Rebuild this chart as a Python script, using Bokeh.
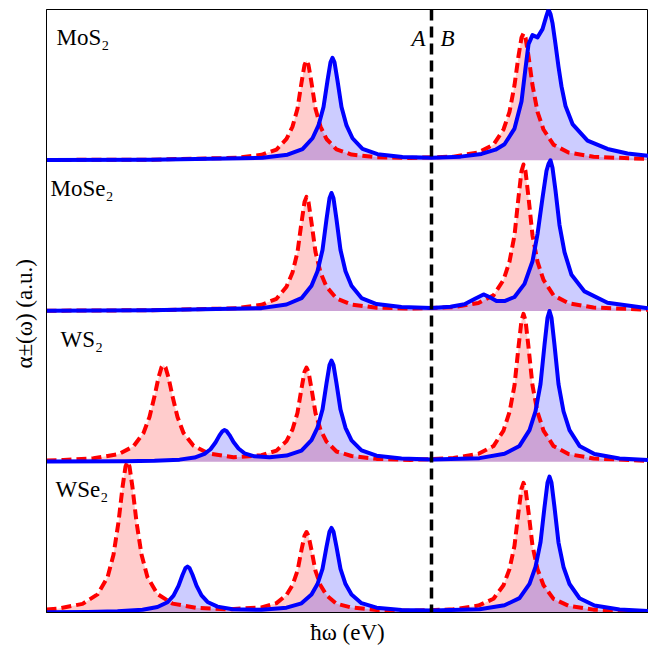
from bokeh.plotting import figure
from bokeh.models import Range1d, FixedTicker, Span
from bokeh.core.properties import value
from bokeh.embed import file_html
from bokeh.resources import INLINE

# ---------------- data ----------------
materials = ["MoS₂", "MoSe₂", "WS₂", "WSe₂"]
label_x = [56, 50, 60, 55]
label_y = [0.815, 0.81, 0.81, 0.815]
split_energy = 431          # A | B boundary
region_labels = ["A", "B"]
region_label_y = 3.81

mos2_red_x = [46, 150, 236, 261, 276, 286, 292, 297, 301, 304, 306, 308, 311, 315, 320, 326, 336, 351, 376, 410,
              453, 478, 493, 503, 509, 514, 518, 521, 523, 525, 528, 532, 537, 543, 553, 568, 593, 648]
mos2_red_y = [0.002, 0.004, 0.016, 0.036, 0.071, 0.141, 0.223, 0.342, 0.514, 0.632, 0.662, 0.632, 0.514, 0.342,
              0.223, 0.141, 0.072, 0.038, 0.020, 0.015, 0.024, 0.052, 0.103, 0.204, 0.321, 0.498, 0.691, 0.813,
              0.842, 0.813, 0.691, 0.498, 0.321, 0.204, 0.103, 0.051, 0.023, 0.008]
mos2_blue_x = [46, 150, 262, 287, 302, 312, 318, 323, 327, 330, 332, 334, 337, 341, 346, 352, 362, 377, 402, 431,
               460, 481, 495, 504, 514, 521, 525, 528, 532, 537, 542, 546, 548, 550, 552, 555, 558, 561, 565, 572,
               587, 607, 627, 648]
mos2_blue_y = [0.002, 0.004, 0.016, 0.037, 0.074, 0.146, 0.231, 0.353, 0.528, 0.650, 0.680, 0.650, 0.528, 0.353,
               0.231, 0.146, 0.075, 0.040, 0.022, 0.016, 0.024, 0.042, 0.07, 0.106, 0.21, 0.39, 0.61, 0.77, 0.83,
               0.815, 0.87, 0.96, 1.0, 0.97, 0.91, 0.77, 0.62, 0.49, 0.36, 0.24, 0.13, 0.075, 0.045, 0.03]

mose2_red_x = [46, 150, 236, 261, 276, 286, 292, 297, 301, 304, 306, 308, 311, 315, 320, 326, 336, 351, 376, 410,
               453, 478, 493, 503, 509, 514, 518, 521, 523, 525, 528, 532, 537, 543, 553, 568, 593, 648]
mose2_red_y = [0.002, 0.005, 0.018, 0.041, 0.081, 0.161, 0.255, 0.391, 0.587, 0.723, 0.757, 0.723, 0.587, 0.391,
               0.255, 0.161, 0.083, 0.043, 0.022, 0.016, 0.025, 0.053, 0.104, 0.206, 0.327, 0.502, 0.754, 0.928,
               0.972, 0.928, 0.754, 0.502, 0.327, 0.206, 0.104, 0.052, 0.023, 0.008]
mose2_blue_x = [46, 150, 261, 286, 301, 311, 317, 322, 326, 329, 331, 333, 336, 340, 345, 351, 361, 376, 401, 431,
                450, 464, 474, 483, 489, 496, 504, 514, 524, 532, 537, 542, 546, 548, 550, 552, 555, 559, 564, 571,
                584, 607, 648]
mose2_blue_y = [0.002, 0.005, 0.019, 0.043, 0.085, 0.167, 0.264, 0.405, 0.608, 0.748, 0.783, 0.748, 0.608, 0.405,
                0.264, 0.167, 0.086, 0.046, 0.026, 0.02, 0.028, 0.045, 0.08, 0.11, 0.093, 0.066, 0.066, 0.093,
                0.18, 0.33, 0.51, 0.75, 0.93, 0.975, 1.0, 0.95, 0.80, 0.57, 0.39, 0.24, 0.13, 0.055, 0.018]

ws2_red_x = [46, 63, 93, 118, 133, 143, 149, 154, 158, 161, 163, 165, 168, 172, 177, 183, 193, 208, 233, 261,
             276, 286, 292, 297, 301, 304, 306, 308, 311, 315, 320, 326, 336, 351, 376, 410, 453, 478, 493, 503,
             509, 514, 518, 521, 523, 525, 528, 532, 537, 543, 553, 568, 593, 648]
ws2_red_y = [0.009, 0.012, 0.023, 0.050, 0.102, 0.191, 0.297, 0.434, 0.558, 0.626, 0.641, 0.626, 0.558, 0.434,
             0.297, 0.191, 0.106, 0.055, 0.030, 0.043, 0.074, 0.137, 0.214, 0.325, 0.486, 0.597, 0.625, 0.596,
             0.485, 0.323, 0.212, 0.134, 0.068, 0.038, 0.019, 0.012, 0.025, 0.053, 0.104, 0.207, 0.329, 0.506,
             0.761, 0.937, 0.981, 0.937, 0.761, 0.506, 0.329, 0.207, 0.104, 0.051, 0.022, 0.006]
ws2_blue_x = [46, 124, 154, 179, 194, 204, 210, 215, 219, 222, 224, 226, 229, 233, 238, 244, 254, 269, 286, 301,
              311, 317, 322, 326, 329, 331, 333, 336, 340, 345, 351, 361, 376, 401, 431, 479, 504, 519, 529, 535,
              540, 544, 547, 549, 551, 554, 558, 563, 569, 579, 594, 619, 648]
ws2_blue_y = [0.002, 0.004, 0.007, 0.014, 0.028, 0.052, 0.083, 0.128, 0.175, 0.203, 0.21, 0.204, 0.177, 0.131,
              0.088, 0.056, 0.036, 0.030, 0.041, 0.074, 0.143, 0.226, 0.346, 0.520, 0.641, 0.671, 0.641, 0.520,
              0.346, 0.225, 0.142, 0.075, 0.040, 0.022, 0.015, 0.024, 0.053, 0.105, 0.21, 0.335, 0.515, 0.775,
              0.955, 1.0, 0.955, 0.775, 0.515, 0.335, 0.21, 0.105, 0.052, 0.022, 0.011]

wse2_red_x = [46, 57, 82, 97, 107, 113, 118, 122, 125, 127, 129, 132, 136, 141, 147, 157, 172, 197, 227, 261,
              276, 286, 292, 297, 301, 304, 306, 308, 311, 315, 320, 326, 336, 351, 376, 410, 453, 478, 493, 503,
              509, 514, 518, 521, 523, 525, 528, 532, 537, 543, 553, 568, 593, 648]
wse2_red_y = [0.02, 0.025, 0.057, 0.12, 0.233, 0.383, 0.60, 0.83, 0.968, 1.0, 0.968, 0.83, 0.60, 0.384, 0.234,
              0.122, 0.059, 0.030, 0.021, 0.034, 0.062, 0.116, 0.182, 0.277, 0.415, 0.51, 0.534, 0.509, 0.414,
              0.276, 0.181, 0.114, 0.058, 0.033, 0.017, 0.011, 0.021, 0.046, 0.091, 0.181, 0.288, 0.443, 0.667,
              0.821, 0.86, 0.821, 0.667, 0.443, 0.288, 0.181, 0.090, 0.045, 0.019, 0.005]
wse2_blue_x = [46, 87, 117, 142, 157, 167, 173, 178, 182, 185, 187, 189, 192, 196, 201, 207, 217, 232, 261, 286,
               301, 311, 317, 322, 326, 329, 331, 333, 336, 340, 345, 351, 361, 376, 401, 431, 479, 504, 519, 529,
               535, 540, 544, 547, 549, 551, 554, 558, 563, 569, 579, 594, 619, 648]
wse2_blue_y = [0.002, 0.004, 0.008, 0.018, 0.036, 0.068, 0.112, 0.177, 0.249, 0.295, 0.305, 0.295, 0.25, 0.178,
               0.113, 0.070, 0.039, 0.022, 0.018, 0.032, 0.061, 0.119, 0.189, 0.289, 0.435, 0.536, 0.561, 0.536,
               0.435, 0.289, 0.189, 0.119, 0.062, 0.032, 0.017, 0.013, 0.022, 0.048, 0.0955, 0.19, 0.303, 0.465,
               0.699, 0.861, 0.901, 0.861, 0.698, 0.464, 0.302, 0.189, 0.0945, 0.0468, 0.0198, 0.009]

red_curves = [(mos2_red_x, mos2_red_y), (mose2_red_x, mose2_red_y), (ws2_red_x, ws2_red_y), (wse2_red_x, wse2_red_y)]
blue_curves = [(mos2_blue_x, mos2_blue_y), (mose2_blue_x, mose2_blue_y), (ws2_blue_x, ws2_blue_y),
               (wse2_blue_x, wse2_blue_y)]

# ---------------- figure ----------------
RED = "#ff0000"
BLUE = "#0000ff"
SERIF = "Liberation Serif"

p = figure(frame_width=602, frame_height=603, min_border_left=46, min_border_right=0,
           min_border_top=9, min_border_bottom=33,
           x_range=Range1d(46, 648), y_range=Range1d(0, 4),
           output_backend="svg", toolbar_location=None)
p.grid.visible = False
p.outline_line_color = "black"
p.outline_line_width = 1
p.background_fill_color = "white"
p.border_fill_color = "white"

for ax in (p.xaxis, p.yaxis):
    ax.ticker = FixedTicker(ticks=[])
    ax.major_tick_line_color = None
    ax.minor_tick_line_color = None
    ax.major_label_text_font_size = "0px"
    ax.axis_line_color = "black"
    ax.axis_line_width = 1
    ax.axis_label_text_font = SERIF
    ax.axis_label_text_font_size = "23px"
    ax.axis_label_text_font_style = "normal"
    ax.axis_label_text_color = "black"

p.xaxis.axis_label = "ħω (eV)"
p.xaxis.axis_label_standoff = 7
p.yaxis.axis_label = "α±(ω)  (a.u.)"
p.yaxis.axis_label_standoff = 10

n = len(materials)
for i in range(n):
    off = n - 1 - i
    rx, ry = red_curves[i]
    bx, by = blue_curves[i]
    p.varea(x=rx, y1=[off] * len(rx), y2=[off + v for v in ry], fill_color=RED, fill_alpha=0.2)
    p.varea(x=bx, y1=[off] * len(bx), y2=[off + v for v in by], fill_color=BLUE, fill_alpha=0.2)

for i in range(n):
    off = n - 1 - i
    rx, ry = red_curves[i]
    p.line(rx, [off + v for v in ry], line_color=RED, line_width=4, line_dash="10 5", line_join="round")

for i in range(n):
    off = n - 1 - i
    bx, by = blue_curves[i]
    p.line(bx, [off + v for v in by], line_color=BLUE, line_width=4, line_join="round")

for i in range(n):
    off = n - 1 - i
    p.text(x=[label_x[i]], y=[off + label_y[i]], text=[materials[i]], text_font=value(SERIF),
           text_font_size="23px", text_color="black", text_baseline="alphabetic", text_align="left")

p.add_layout(Span(location=split_energy, dimension="height", line_color="black", line_width=3.5,
                  line_dash="11 6"))
p.text(x=[split_energy - 6], y=[region_label_y], text=[region_labels[0]], text_font=value(SERIF),
       text_font_size="23px", text_font_style="italic", text_align="right", text_baseline="alphabetic",
       text_color="black")
p.text(x=[split_energy + 9], y=[region_label_y], text=[region_labels[1]], text_font=value(SERIF),
       text_font_size="23px", text_font_style="italic", text_align="left", text_baseline="alphabetic",
       text_color="black")

open("out.html", "w").write(file_html(p, INLINE))
